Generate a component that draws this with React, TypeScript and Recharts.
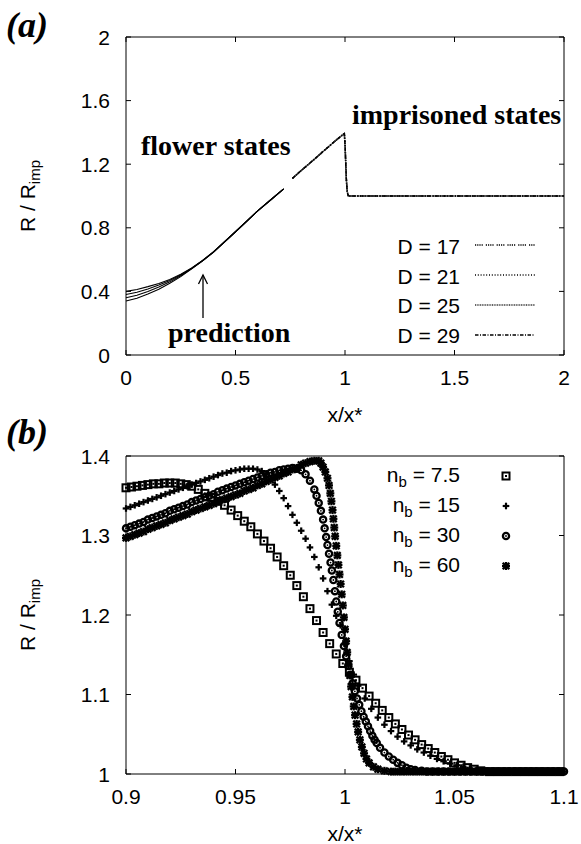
import React from "react";
import { LineChart, Line, XAxis, YAxis, ScatterChart, Scatter } from "recharts";

const SANS = '"Liberation Sans", Arial, sans-serif';
const SERIF = '"Liberation Serif", "Times New Roman", serif';

// ---- panel (a) ----
const topXTicks = [0, 0.5, 1, 1.5, 2];
const topYTicks = [0, 0.4, 0.8, 1.2, 1.6, 2];

// flower branch: the four D curves fan out near x = 0 and merge by x ~ 0.3
const flowerX = [0, 0.05, 0.1, 0.15, 0.2, 0.25, 0.3, 0.35, 0.4, 0.5, 0.6, 0.66, 0.72];
const d17Flower = [0.4, 0.412, 0.43, 0.45, 0.475, 0.508, 0.548, 0.595, 0.65, 0.775, 0.905, 0.975, 1.045];
const d21Flower = [0.38, 0.395, 0.415, 0.44, 0.468, 0.503, 0.546, 0.594, 0.649, 0.775, 0.905, 0.975, 1.045];
const d25Flower = [0.36, 0.376, 0.399, 0.427, 0.46, 0.498, 0.544, 0.593, 0.648, 0.775, 0.905, 0.975, 1.045];
const d29Flower = [0.34, 0.357, 0.383, 0.414, 0.451, 0.493, 0.542, 0.592, 0.647, 0.775, 0.905, 0.975, 1.045];

// imprisoned branch: all D coincide
const trappedX = [0.76, 0.8, 0.85, 0.9, 0.95, 0.99, 0.997, 1.0, 1.003, 1.006, 1.01, 1.015, 1.5, 2.0];
const trappedR = [1.111, 1.16, 1.219, 1.28, 1.34, 1.386, 1.392, 1.33, 1.22, 1.11, 1.03, 1.0, 1.0, 1.0];

const dNames = ["D = 17", "D = 21", "D = 25", "D = 29"];

// ---- panel (b) ----
const botXTicks = [0.9, 0.95, 1, 1.05, 1.1];
const botYTicks = [1, 1.1, 1.2, 1.3, 1.4];

const nb75: [number, number][] = [
  [0.9, 1.36], [0.9025, 1.361], [0.905, 1.362], [0.9075, 1.363], [0.91, 1.364], [0.9125, 1.365],
  [0.915, 1.365], [0.9175, 1.366], [0.92, 1.366], [0.9225, 1.366], [0.925, 1.365], [0.9275, 1.364],
  [0.93, 1.362], [0.933, 1.358], [0.936, 1.353], [0.939, 1.348], [0.942, 1.343], [0.945, 1.338],
  [0.948, 1.332], [0.951, 1.325], [0.954, 1.318], [0.957, 1.311], [0.96, 1.302], [0.963, 1.293],
  [0.966, 1.284], [0.969, 1.273], [0.972, 1.262], [0.975, 1.25], [0.978, 1.237], [0.981, 1.223],
  [0.984, 1.208], [0.987, 1.193], [0.99, 1.178], [0.993, 1.164], [0.996, 1.151], [0.999, 1.139],
  [1.002, 1.128], [1.005, 1.118], [1.008, 1.108], [1.011, 1.098], [1.014, 1.089], [1.017, 1.08],
  [1.02, 1.071], [1.023, 1.063], [1.026, 1.056], [1.029, 1.049], [1.032, 1.043], [1.035, 1.037],
  [1.038, 1.032], [1.041, 1.027], [1.044, 1.022], [1.047, 1.018], [1.05, 1.014], [1.053, 1.011],
  [1.056, 1.008], [1.059, 1.006], [1.062, 1.004], [1.066, 1.003], [1.07, 1.003], [1.074, 1.003],
  [1.078, 1.003], [1.082, 1.003], [1.086, 1.003], [1.09, 1.003], [1.094, 1.003], [1.098, 1.003],
];

const nb15: [number, number][] = [
  [0.9, 1.334], [0.902, 1.336], [0.904, 1.338], [0.906, 1.34], [0.908, 1.342], [0.91, 1.344],
  [0.912, 1.346], [0.914, 1.348], [0.916, 1.35], [0.918, 1.352], [0.92, 1.354], [0.922, 1.356],
  [0.924, 1.358], [0.926, 1.36], [0.928, 1.362], [0.93, 1.364], [0.932, 1.366], [0.934, 1.368],
  [0.936, 1.37], [0.938, 1.372], [0.94, 1.374], [0.942, 1.376], [0.944, 1.378], [0.946, 1.379],
  [0.948, 1.381], [0.95, 1.382], [0.952, 1.383], [0.954, 1.384], [0.956, 1.384], [0.958, 1.384],
  [0.96, 1.383], [0.962, 1.381], [0.964, 1.377], [0.966, 1.371], [0.968, 1.364], [0.97, 1.356],
  [0.972, 1.347], [0.974, 1.337], [0.976, 1.326], [0.978, 1.316], [0.98, 1.306], [0.982, 1.296],
  [0.984, 1.285], [0.986, 1.273], [0.988, 1.26], [0.99, 1.246], [0.992, 1.23], [0.994, 1.213],
  [0.996, 1.199], [0.998, 1.187], [1.0, 1.163], [1.002, 1.142], [1.004, 1.125], [1.006, 1.111],
  [1.009, 1.095], [1.012, 1.082], [1.015, 1.071], [1.018, 1.062], [1.021, 1.054], [1.024, 1.047],
  [1.027, 1.041], [1.03, 1.036], [1.033, 1.031], [1.036, 1.027], [1.039, 1.023], [1.042, 1.019],
  [1.045, 1.016], [1.048, 1.013], [1.051, 1.011], [1.054, 1.009], [1.057, 1.007], [1.06, 1.005],
  [1.064, 1.004], [1.068, 1.003], [1.072, 1.003], [1.076, 1.003], [1.08, 1.003], [1.084, 1.003],
  [1.088, 1.003], [1.092, 1.003], [1.096, 1.003], [1.1, 1.003],
];

const nb30: [number, number][] = [
  [0.9, 1.309], [0.902, 1.311], [0.904, 1.313], [0.906, 1.315], [0.908, 1.317], [0.91, 1.32],
  [0.912, 1.322], [0.914, 1.324], [0.916, 1.326], [0.918, 1.328], [0.92, 1.331], [0.922, 1.333],
  [0.924, 1.335], [0.926, 1.337], [0.928, 1.339], [0.93, 1.342], [0.932, 1.344], [0.934, 1.346],
  [0.936, 1.348], [0.938, 1.35], [0.94, 1.352], [0.942, 1.355], [0.944, 1.357], [0.946, 1.359],
  [0.948, 1.361], [0.95, 1.363], [0.952, 1.365], [0.954, 1.367], [0.956, 1.369], [0.958, 1.371],
  [0.96, 1.373], [0.962, 1.375], [0.964, 1.377], [0.966, 1.379], [0.968, 1.38], [0.97, 1.382],
  [0.972, 1.383], [0.974, 1.384], [0.976, 1.385], [0.978, 1.384], [0.98, 1.382], [0.982, 1.377],
  [0.984, 1.369], [0.986, 1.358], [0.987, 1.35], [0.988, 1.341], [0.989, 1.331], [0.99, 1.32],
  [0.9907, 1.309], [0.9914, 1.298], [0.992, 1.288], [0.9927, 1.277], [0.9934, 1.266], [0.994, 1.256],
  [0.9947, 1.244], [0.9954, 1.23], [0.996, 1.217], [0.9967, 1.204], [0.9975, 1.19], [0.9985, 1.175],
  [0.9995, 1.161], [1.0005, 1.148], [1.0015, 1.136], [1.0025, 1.125], [1.0035, 1.114], [1.0045, 1.104],
  [1.0055, 1.095], [1.0065, 1.087], [1.0075, 1.079], [1.0085, 1.072], [1.0095, 1.066], [1.0105, 1.06],
  [1.0115, 1.054], [1.0125, 1.048], [1.0135, 1.043], [1.0145, 1.039], [1.016, 1.033], [1.018, 1.027],
  [1.02, 1.022], [1.022, 1.018], [1.024, 1.014], [1.026, 1.011], [1.028, 1.008], [1.03, 1.006],
  [1.032, 1.005], [1.035, 1.004], [1.0375, 1.003], [1.04, 1.003], [1.0425, 1.003], [1.045, 1.003],
  [1.0475, 1.003], [1.05, 1.003], [1.0525, 1.003], [1.055, 1.003], [1.0575, 1.003], [1.06, 1.003],
  [1.0625, 1.003], [1.065, 1.003], [1.0675, 1.003], [1.07, 1.003], [1.0725, 1.003], [1.075, 1.003],
  [1.0775, 1.003], [1.08, 1.003], [1.0825, 1.003], [1.085, 1.003], [1.0875, 1.003], [1.09, 1.003],
  [1.0925, 1.003], [1.095, 1.003], [1.0975, 1.003], [1.1, 1.003],
];

const nb60: [number, number][] = [
  [0.9, 1.297], [0.902, 1.299], [0.904, 1.301], [0.906, 1.303], [0.908, 1.305], [0.91, 1.308],
  [0.912, 1.31], [0.914, 1.312], [0.916, 1.314], [0.918, 1.316], [0.92, 1.319], [0.922, 1.321],
  [0.924, 1.323], [0.926, 1.325], [0.928, 1.327], [0.93, 1.33], [0.932, 1.332], [0.934, 1.334],
  [0.936, 1.336], [0.938, 1.338], [0.94, 1.34], [0.942, 1.343], [0.944, 1.345], [0.946, 1.347],
  [0.948, 1.349], [0.95, 1.351], [0.952, 1.353], [0.954, 1.356], [0.956, 1.358], [0.958, 1.36],
  [0.96, 1.363], [0.962, 1.365], [0.964, 1.368], [0.966, 1.37], [0.968, 1.373], [0.97, 1.375],
  [0.972, 1.378], [0.974, 1.38], [0.976, 1.383], [0.978, 1.385], [0.98, 1.389], [0.982, 1.391],
  [0.984, 1.393], [0.986, 1.394], [0.988, 1.394], [0.989, 1.391], [0.99, 1.386], [0.991, 1.38],
  [0.992, 1.372], [0.9927, 1.363], [0.9933, 1.353], [0.9938, 1.343], [0.9943, 1.332], [0.9947, 1.321],
  [0.9951, 1.31], [0.9955, 1.299], [0.996, 1.287], [0.9965, 1.275], [0.997, 1.263], [0.9975, 1.251],
  [0.998, 1.239], [0.9985, 1.226], [0.999, 1.212], [0.9995, 1.197], [1.0, 1.182], [1.0005, 1.167],
  [1.001, 1.153], [1.0016, 1.138], [1.0022, 1.124], [1.0028, 1.11], [1.0034, 1.097], [1.004, 1.085],
  [1.0046, 1.074], [1.0053, 1.063], [1.006, 1.053], [1.0068, 1.043], [1.0077, 1.034], [1.0087, 1.026],
  [1.0098, 1.019], [1.011, 1.014], [1.013, 1.009], [1.015, 1.006], [1.018, 1.004], [1.021, 1.003],
  [1.023, 1.003], [1.025, 1.003], [1.027, 1.003], [1.029, 1.003], [1.031, 1.003], [1.033, 1.003],
  [1.035, 1.003], [1.037, 1.003], [1.039, 1.003], [1.041, 1.003], [1.043, 1.003], [1.045, 1.003],
  [1.047, 1.003], [1.049, 1.003], [1.051, 1.003], [1.053, 1.003], [1.055, 1.003], [1.057, 1.003],
  [1.059, 1.003], [1.061, 1.003], [1.063, 1.003], [1.065, 1.003], [1.067, 1.003], [1.069, 1.003],
  [1.071, 1.003], [1.073, 1.003], [1.075, 1.003], [1.077, 1.003], [1.079, 1.003], [1.081, 1.003],
  [1.083, 1.003], [1.085, 1.003], [1.087, 1.003], [1.089, 1.003], [1.091, 1.003], [1.093, 1.003],
  [1.095, 1.003], [1.097, 1.003], [1.099, 1.003],
];

const nbNames = ["7.5", "15", "30", "60"];

// gnuplot-like dash types for the D curves
const dStyles = [
  { dash: "1.2 1 1.2 1 1.2 1 1.2 3", color: "#000" },
  { dash: "1 1.8", color: "#000" },
  { dash: "1 0.7", color: "#333" },
  { dash: "3.5 1.5 1 1.5", color: "#000" },
];

const topRows = [
  ...flowerX.map((x, i) => ({
    x,
    f17: d17Flower[i],
    f21: d21Flower[i],
    f25: d25Flower[i],
    f29: d29Flower[i],
  })),
  ...trappedX.map((x, i) => ({ x, t: trappedR[i] })),
];

const toPts = (arr: [number, number][]) => arr.map(([x, y]) => ({ x, y }));

// both panels share the same plot frame size
const PLOT_W = 438;
const TICK = 5;
const GAP = 15;
const fmt = (v: number) => String(v);

// gnuplot style: labels outside, short ticks pointing into the frame (mirrored on top / right)
const BottomTick = (p: any) => (
  <g>
    <line x1={p.x} x2={p.x} y1={p.y - GAP} y2={p.y - GAP - TICK} stroke="#000" />
    <text x={p.x} y={p.y} dy={15} textAnchor="middle" fontSize={21} fontFamily={SANS} fill="#000">
      {fmt(p.payload.value)}
    </text>
  </g>
);
const LeftTick = (p: any) => {
  const ax = p.x + GAP;
  return (
    <g>
      <line x1={ax} x2={ax + TICK} y1={p.y} y2={p.y} stroke="#000" />
      <line x1={ax + PLOT_W} x2={ax + PLOT_W - TICK} y1={p.y} y2={p.y} stroke="#000" />
      <text x={p.x - 1} y={p.y} dy={7.5} textAnchor="end" fontSize={21} fontFamily={SANS} fill="#000">
        {fmt(p.payload.value)}
      </text>
    </g>
  );
};
const TopTick = (p: any) => <line x1={p.x} x2={p.x} y1={p.y} y2={p.y + TICK} stroke="#000" />;

// ---- marker shapes ----
const SquareMark = (p: any) => (
  <g>
    <rect x={p.cx - 3.5} y={p.cy - 3.5} width={7} height={7} fill="none" stroke="#000" strokeWidth={2} />
    <rect x={p.cx - 1} y={p.cy - 1} width={2} height={2} fill="#000" />
  </g>
);
const PlusMark = (p: any) => (
  <g stroke="#000" strokeWidth={2.2}>
    <line x1={p.cx - 3.3} y1={p.cy} x2={p.cx + 3.3} y2={p.cy} />
    <line x1={p.cx} y1={p.cy - 3.3} x2={p.cx} y2={p.cy + 3.3} />
  </g>
);
const CircleMark = (p: any) => (
  <g>
    <circle cx={p.cx} cy={p.cy} r={3.1} fill="none" stroke="#000" strokeWidth={2.3} />
    <circle cx={p.cx} cy={p.cy} r={0.9} fill="#000" />
  </g>
);
const StarMark = (p: any) => (
  <g stroke="#000" strokeWidth={2.3}>
    <line x1={p.cx - 3.3} y1={p.cy - 3.3} x2={p.cx + 3.3} y2={p.cy + 3.3} />
    <line x1={p.cx - 3.3} y1={p.cy + 3.3} x2={p.cx + 3.3} y2={p.cy - 3.3} />
    <line x1={p.cx - 4} y1={p.cy} x2={p.cx + 4} y2={p.cy} />
    <line x1={p.cx} y1={p.cy - 4} x2={p.cx} y2={p.cy + 4} />
  </g>
);
const marks = [SquareMark, PlusMark, CircleMark, StarMark];
const nbSeries = [nb75, nb15, nb30, nb60];

function Frame({ xDomain, yDomain, xTicks, yTicks, xKey, yKey }: any) {
  return [
    <XAxis key="b" type="number" dataKey={xKey} domain={xDomain} ticks={xTicks} interval={0} tickLine={false}
      tickSize={0} tickMargin={GAP} height={30} stroke="#000" tick={BottomTick} />,
    <XAxis key="t" xAxisId="top" orientation="top" type="number" dataKey={xKey} domain={xDomain} ticks={xTicks}
      interval={0} tickLine={false} tickSize={0} tickMargin={0} height={1} stroke="#000" tick={TopTick} />,
    <YAxis key="l" type="number" dataKey={yKey} domain={yDomain} ticks={yTicks} interval={0} tickLine={false}
      tickSize={0} tickMargin={GAP} width={60} stroke="#000" tick={LeftTick} />,
    <YAxis key="r" yAxisId="right" orientation="right" type="number" dataKey={yKey} domain={yDomain}
      ticks={yTicks} tickLine={false} tick={false} width={1} stroke="#000" />,
  ];
}

function TopPanel() {
  return (
    <LineChart width={581} height={420} data={topRows} margin={{ top: 36, right: 16, bottom: 35, left: 66 }}>
      {Frame({ xDomain: [0, 2], yDomain: [0, 2], xTicks: topXTicks, yTicks: topYTicks, xKey: "x", yKey: undefined })}
      {["f17", "f21", "f25", "f29"].map((k) => (
        <Line key={k} dataKey={k} stroke="#000" strokeWidth={1.1} dot={false} isAnimationActive={false} />
      ))}
      {dStyles.map((s, i) => (
        <Line key={"t" + i} dataKey="t" stroke={s.color} strokeWidth={1.5} strokeDasharray={s.dash}
          dot={false} isAnimationActive={false} />
      ))}
    </LineChart>
  );
}

function BottomPanel() {
  return (
    <ScatterChart width={581} height={424} margin={{ top: 35, right: 16, bottom: 40, left: 66 }}>
      {Frame({ xDomain: [0.9, 1.1], yDomain: [1, 1.4], xTicks: botXTicks, yTicks: botYTicks, xKey: "x", yKey: "y" })}
      {nbSeries.map((s, i) => (
        <Scatter key={i} name={nbNames[i]} data={toPts(s)} shape={marks[i]} isAnimationActive={false} />
      ))}
    </ScatterChart>
  );
}

function Overlay() {
  const lab = { fontFamily: SANS, fontSize: 21, fill: "#000" };
  const big = { fontFamily: SERIF, fontSize: 28, fontWeight: 700, fill: "#000" };
  return (
    <svg width={581} height={844} style={{ position: "absolute", left: 0, top: 0, pointerEvents: "none", whiteSpace: "pre" }}>
      {/* panel tags */}
      <text x={6} y={37} fontFamily={SERIF} fontSize={36} fontWeight={700} fontStyle="italic">(a)</text>
      <text x={6} y={444} fontFamily={SERIF} fontSize={36} fontWeight={700} fontStyle="italic">(b)</text>

      {/* axis titles */}
      <text {...lab} x={35} y={196} textAnchor="middle" transform="rotate(-90, 35, 196)">
        R / R<tspan fontSize={15} dy={5}>imp</tspan>
      </text>
      <text {...lab} x={35} y={615} textAnchor="middle" transform="rotate(-90, 35, 615)">
        R / R<tspan fontSize={15} dy={5}>imp</tspan>
      </text>
      <text {...lab} x={345} y={422} textAnchor="middle">x/x*</text>
      <text {...lab} x={345} y={841} textAnchor="middle">x/x*</text>

      {/* annotations, panel (a) */}
      <text {...big} x={141} y={155}>flower states</text>
      <text {...big} x={352} y={124}>imprisoned states</text>
      <text {...big} x={168} y={342}>prediction</text>
      <g stroke="#000" strokeWidth={1.3} fill="none">
        <line x1={203} y1={318} x2={203} y2={275} />
        <polyline points="198.5,284 203,275 207.5,284" />
      </g>

      {/* legend, panel (a) */}
      {dNames.map((n, i) => (
        <g key={n}>
          <text {...lab} x={460} y={254 + 29.5 * i} textAnchor="end">{n}</text>
          <line x1={475} x2={535} y1={245 + 30 * i} y2={245 + 30 * i} stroke={dStyles[i].color}
            strokeWidth={1.3} strokeDasharray={dStyles[i].dash} />
        </g>
      ))}

      {/* legend, panel (b) */}
      {nbNames.map((n, i) => {
        const M = marks[i];
        return (
          <g key={n}>
            <text {...lab} x={460} y={482 + 30 * i} textAnchor="end">
              n<tspan fontSize={15} dy={5}>b</tspan><tspan dy={-5}>{" = " + n}</tspan>
            </text>
            <M cx={506} cy={476 + 30 * i} />
          </g>
        );
      })}
    </svg>
  );
}

export default function App() {
  return (
    <div style={{ position: "absolute", left: 0, top: 0, width: 581, height: 844, background: "#fff" }}>
      <div style={{ position: "absolute", left: 0, top: 0 }}>
        <TopPanel />
      </div>
      <div style={{ position: "absolute", left: 0, top: 420 }}>
        <BottomPanel />
      </div>
      <Overlay />
    </div>
  );
}
